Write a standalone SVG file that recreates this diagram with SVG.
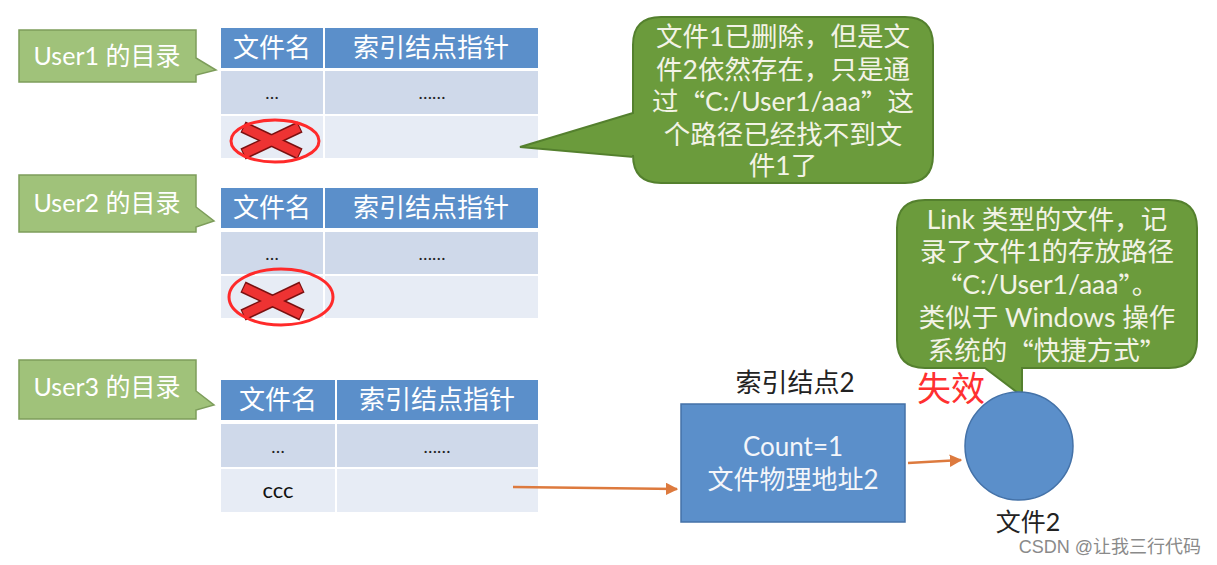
<svg xmlns="http://www.w3.org/2000/svg" width="1217" height="565" viewBox="0 0 1217 565">
<defs>
<style>
.t{font-family:"Lato","Noto Sans CJK SC",sans-serif;text-anchor:middle;dominant-baseline:central}
.q{font-family:"Noto Sans CJK SC",sans-serif}
.hd{fill:#5b8fca}
.r1{fill:#cfd9ea}
.r2{fill:#e7ecf5}
.hdt{fill:#ffffff;font-size:26px}
.cell{fill:#222;font-size:18px}
.callout{fill:#a0c27a;stroke:#7d9d5b;stroke-width:1.5}
.calt{fill:#ffffff;font-size:25px}
.bub{fill:#6b9b3c;stroke:#54802e;stroke-width:2}
.bubt{fill:#f3f3e6;font-size:26.5px}
.xo{stroke:#7a1010;stroke-width:12;stroke-linecap:butt}
.xi{stroke:#ee3333;stroke-width:9;stroke-linecap:butt}
.ring{fill:none;stroke:#ff2a2a;stroke-width:3}
.conn{stroke:#dd7a3e;stroke-width:2.5;fill:none;marker-end:url(#ah)}
</style>
<marker id="ah" viewBox="0 0 10 10" refX="9" refY="5" markerWidth="5" markerHeight="5" orient="auto">
<path d="M0,0 L10,5 L0,10 Z" fill="#dd7a3e"/>
</marker>
</defs>
<rect width="1217" height="565" fill="#ffffff"/>

<g id="user1-label">
<path class="callout" d="M19,30 H196 V58 L216,70 L196,75 V82 H19 Z"/>
<text class="t calt" x="107" y="55">User1 的目录</text>
</g>
<g id="table1">
<rect class="hd" x="221" y="28" width="102" height="40"/>
<rect class="hd" x="325" y="28" width="213" height="40"/>
<rect class="r1" x="221" y="71" width="102" height="43"/>
<rect class="r1" x="325" y="71" width="213" height="43"/>
<rect class="r2" x="221" y="116" width="102" height="42"/>
<rect class="r2" x="325" y="116" width="213" height="42"/>
<text class="t hdt" x="272" y="47">文件名</text>
<text class="t hdt" x="431" y="47">索引结点指针</text>
<text class="t cell" x="272" y="92">…</text>
<text class="t cell" x="432" y="92">……</text>
<line class="xo" x1="243" y1="127" x2="300" y2="154"/>
<line class="xo" x1="243" y1="154" x2="300" y2="127"/>
<line class="xi" x1="244" y1="127.5" x2="299" y2="153.5"/>
<line class="xi" x1="244" y1="153.5" x2="299" y2="127.5"/>
<ellipse class="ring" cx="275" cy="141" rx="44" ry="21"/>
</g>

<g id="user2-label">
<path class="callout" d="M19,175 H196 V207 L214,221 L196,227 V232 H19 Z"/>
<text class="t calt" x="107" y="202">User2 的目录</text>
</g>
<g id="table2">
<rect class="hd" x="221" y="188" width="102" height="40"/>
<rect class="hd" x="325" y="188" width="213" height="40"/>
<rect class="r1" x="221" y="232" width="102" height="42"/>
<rect class="r1" x="325" y="232" width="213" height="42"/>
<rect class="r2" x="221" y="276" width="102" height="42"/>
<rect class="r2" x="325" y="276" width="213" height="42"/>
<text class="t hdt" x="272" y="207">文件名</text>
<text class="t hdt" x="431" y="207">索引结点指针</text>
<text class="t cell" x="272" y="253">…</text>
<text class="t cell" x="432" y="253">……</text>
<line class="xo" x1="243" y1="287" x2="302" y2="315"/>
<line class="xo" x1="243" y1="315" x2="302" y2="287"/>
<line class="xi" x1="244" y1="287.5" x2="301" y2="314.5"/>
<line class="xi" x1="244" y1="314.5" x2="301" y2="287.5"/>
<ellipse class="ring" cx="281" cy="297" rx="52" ry="28"/>
</g>

<g id="user3-label">
<path class="callout" d="M19,360 H196 V391 L214,405 L196,410 V419 H19 Z"/>
<text class="t calt" x="107" y="386">User3 的目录</text>
</g>
<g id="table3">
<rect class="hd" x="221" y="380" width="114" height="40"/>
<rect class="hd" x="337" y="380" width="201" height="40"/>
<rect class="r1" x="221" y="424" width="114" height="43"/>
<rect class="r1" x="337" y="424" width="201" height="43"/>
<rect class="r2" x="221" y="469" width="114" height="43"/>
<rect class="r2" x="337" y="469" width="201" height="43"/>
<text class="t hdt" x="278" y="399">文件名</text>
<text class="t hdt" x="437" y="399">索引结点指针</text>
<text class="t cell" x="278" y="446">…</text>
<text class="t cell" x="437" y="446">……</text>
<text class="t" x="278" y="489" style="font-size:22px;fill:#111">ccc</text>
</g>

<g id="note1">
<path class="bub" d="M661,17 H905 Q933,17 933,45 V155 Q933,183 905,183 H661 Q633,183 633,155 V157 L520,147 L633,113 V45 Q633,17 661,17 Z"/>
<text class="t bubt" x="783" y="36">文件1已删除，但是文</text>
<text class="t bubt" x="783" y="69">件2依然存在，只是通</text>
<text class="t bubt" x="783" y="101">过<tspan class="q">“</tspan>C:/User1/aaa<tspan class="q">”</tspan>这</text>
<text class="t bubt" x="783" y="134">个路径已经找不到文</text>
<text class="t bubt" x="783" y="165">件1了</text>
</g>

<g id="note2">
<path class="bub" d="M925,200 H1169 Q1197,200 1197,228 V340 Q1197,368 1169,368 H1022 V396 L985,368 H925 Q897,368 897,340 V228 Q897,200 925,200 Z"/>
<text class="t bubt" x="1047" y="219">Link 类型的文件，记</text>
<text class="t bubt" x="1047" y="251">录了文件1的存放路径</text>
<text class="t bubt" x="1047" y="284"><tspan class="q">“</tspan>C:/User1/aaa<tspan class="q">”</tspan>。</text>
<text class="t bubt" x="1047" y="317">类似于 Windows 操作</text>
<text class="t bubt" x="1047" y="350">系统的<tspan class="q">“</tspan>快捷方式<tspan class="q">”</tspan></text>
</g>

<g id="inode2">
<text class="t" x="795" y="382" style="font-size:26px;fill:#222">索引结点2</text>
<rect x="681" y="404" width="224" height="118" fill="#5b8fca" stroke="#4472a8" stroke-width="1.5"/>
<text class="t" x="793" y="446" style="font-size:26px;fill:#f4f6fa">Count=1</text>
<text class="t" x="793" y="479" style="font-size:26px;fill:#f4f6fa">文件物理地址2</text>
</g>

<g id="file2">
<circle cx="1019" cy="446" r="54" fill="#5b8fca" stroke="#4472a8" stroke-width="1.5"/>
<text class="t" x="1028" y="521" style="font-size:25px;fill:#222">文件2</text>
</g>

<g id="invalid">
<text class="t" x="951" y="387" style="font-size:34px;fill:#ff3030">失效</text>
</g>

<g id="connectors">
<line class="conn" x1="513" y1="487" x2="677" y2="489"/>
<line class="conn" x1="908" y1="463" x2="961" y2="460"/>
</g>

<text x="1201" y="553" style="font-family:'Liberation Sans','Noto Sans CJK SC',sans-serif;font-size:18px;fill:#8a8a8a;text-anchor:end">CSDN @让我三行代码</text>
</svg>
